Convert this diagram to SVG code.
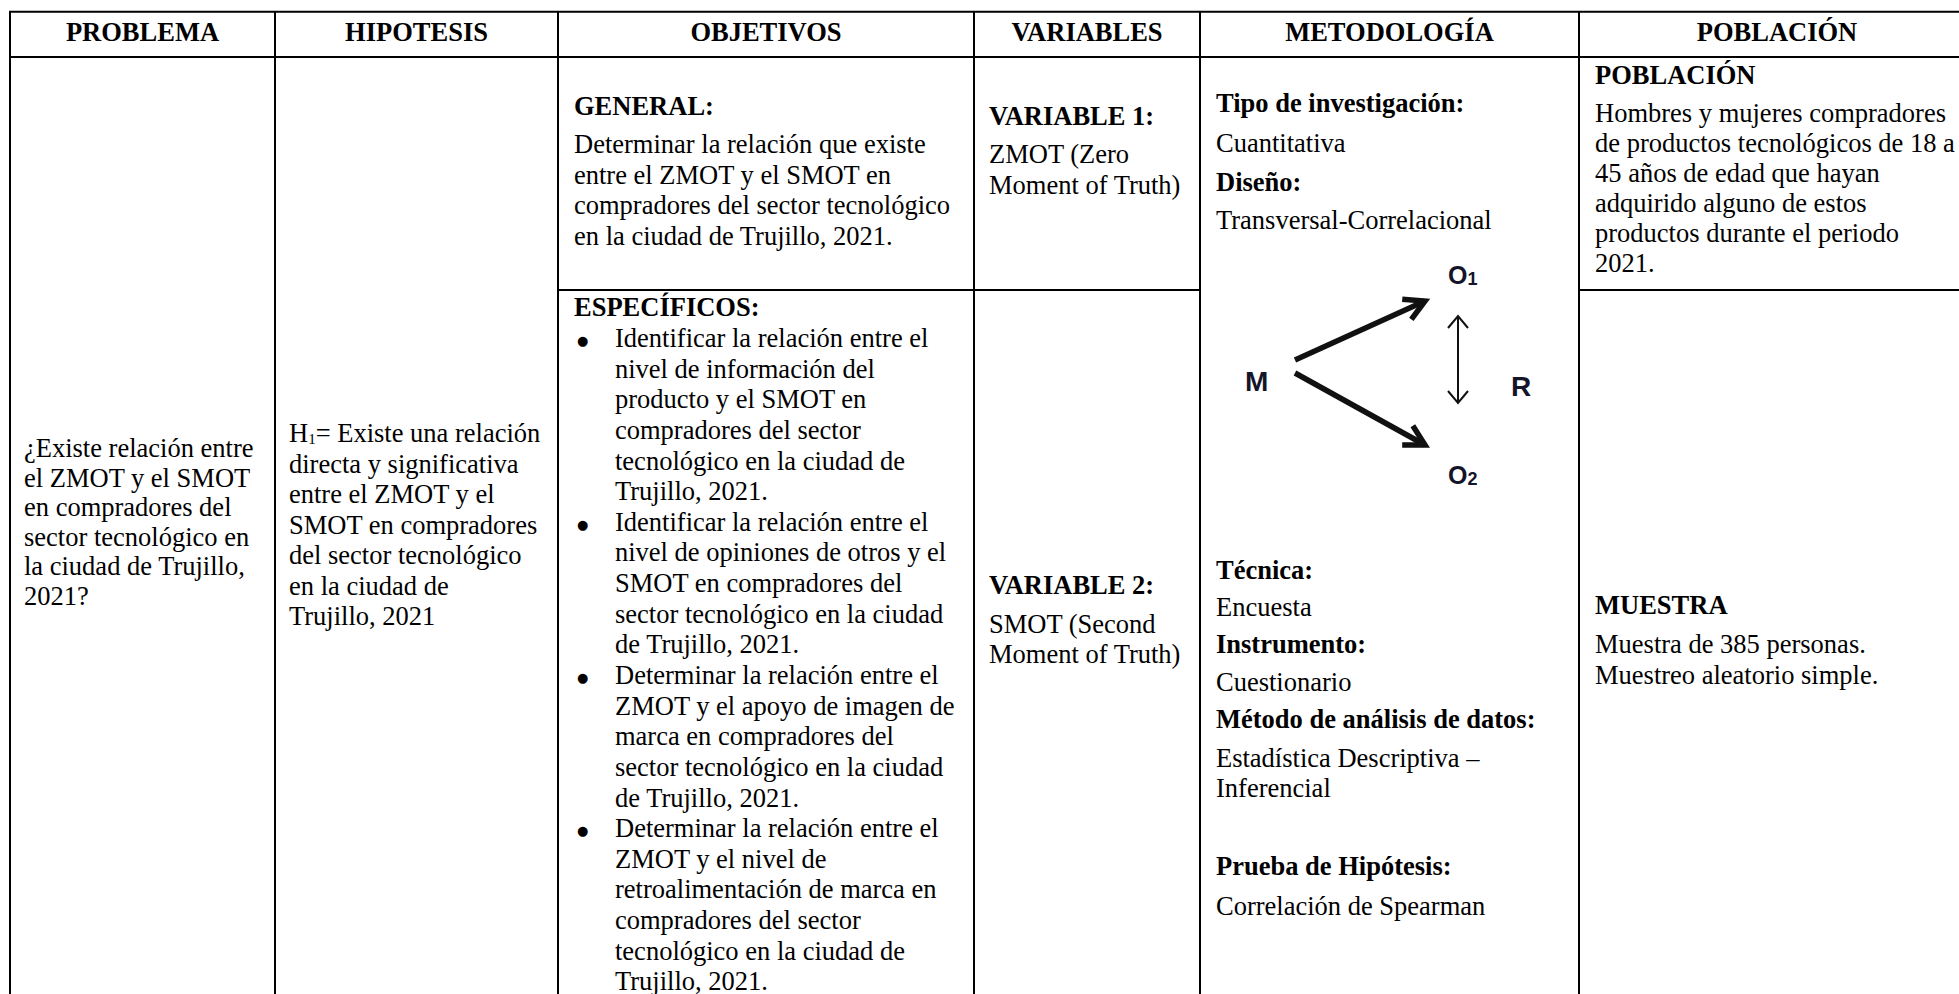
<svg xmlns="http://www.w3.org/2000/svg" width="1959" height="994" viewBox="0 0 1959 994">
<style>
  .t { font-family: "Liberation Serif", "Times New Roman", serif; font-size: 26.5px; fill: #000; }
  .b { font-weight: bold; }
  .h { font-family: "Liberation Serif", "Times New Roman", serif; font-size: 26.5px; font-weight: bold; text-anchor: middle; fill: #000; }
  .bul { font-family: "DejaVu Sans", sans-serif; font-size: 13px; fill: #000; }
  .grid { stroke: #000; stroke-width: 2; fill: none; }
  .lbl { font-family: "Liberation Sans", Arial, sans-serif; font-weight: bold; font-size: 28px; fill: #15152a; }
  .lblo { font-family: "Liberation Sans", Arial, sans-serif; font-weight: bold; font-size: 25px; fill: #15152a; }
  .thick { stroke: #111; stroke-width: 5.5; fill: none; }
  .thin { stroke: #111; stroke-width: 2; fill: none; }
</style>
<defs>
  <marker id="headThick" markerUnits="userSpaceOnUse" markerWidth="44" markerHeight="44" refX="0" refY="0" viewBox="-26 -22 32 44" orient="auto">
    <path d="M -20 -11 L 0 0 L -20 11" stroke="#111" stroke-width="5.5" fill="none" stroke-linejoin="miter"/>
  </marker>
  <marker id="headThin" markerUnits="userSpaceOnUse" markerWidth="30" markerHeight="30" refX="0" refY="0" viewBox="-15 -15 20 30" orient="auto-start-reverse">
    <path d="M -12 -10 L 0 0 L -12 10" stroke="#111" stroke-width="2" fill="none"/>
  </marker>
</defs>
<rect x="0" y="0" width="1959" height="994" fill="#fff"/>

<g id="grid">
  <line class="grid" x1="9" y1="11.7" x2="1959" y2="11.7" stroke-width="2.5"/>
  <line class="grid" x1="9" y1="57" x2="1959" y2="57"/>
  <line class="grid" x1="10" y1="11" x2="10" y2="994"/>
  <line class="grid" x1="275" y1="11" x2="275" y2="994"/>
  <line class="grid" x1="558" y1="11" x2="558" y2="994"/>
  <line class="grid" x1="974" y1="11" x2="974" y2="994"/>
  <line class="grid" x1="1200" y1="11" x2="1200" y2="994"/>
  <line class="grid" x1="1579" y1="11" x2="1579" y2="994"/>
  <line class="grid" x1="558" y1="290" x2="1200" y2="290" stroke-width="2.5"/>
  <line class="grid" x1="1579" y1="290" x2="1959" y2="290" stroke-width="2.5"/>
</g>

<g id="headers">
  <text class="h" x="142.5" y="41">PROBLEMA</text>
  <text class="h" x="416.5" y="41">HIPOTESIS</text>
  <text class="h" x="766" y="41">OBJETIVOS</text>
  <text class="h" x="1087" y="41">VARIABLES</text>
  <text class="h" x="1389.5" y="41">METODOLOGÍA</text>
  <text class="h" x="1777" y="41">POBLACIÓN</text>
</g>

<g id="problema">
  <text class="t" x="24" y="457">¿Existe relación entre</text>
  <text class="t" x="24" y="486.6">el ZMOT y el SMOT</text>
  <text class="t" x="24" y="516.2">en compradores del</text>
  <text class="t" x="24" y="545.8">sector tecnológico en</text>
  <text class="t" x="24" y="575.4">la ciudad de Trujillo,</text>
  <text class="t" x="24" y="605">2021?</text>
</g>

<g id="hipotesis">
  <text class="t" x="289" y="442">H<tspan font-size="15" dy="2">1</tspan><tspan dy="-2">= Existe una relación</tspan></text>
  <text class="t" x="289" y="472.5">directa y significativa</text>
  <text class="t" x="289" y="503">entre el ZMOT y el</text>
  <text class="t" x="289" y="533.5">SMOT en compradores</text>
  <text class="t" x="289" y="564">del sector tecnológico</text>
  <text class="t" x="289" y="594.5">en la ciudad de</text>
  <text class="t" x="289" y="625">Trujillo, 2021</text>
</g>

<g id="objetivo-general">
  <text class="t b" x="574" y="115">GENERAL:</text>
  <text class="t" x="574" y="153">Determinar la relación que existe</text>
  <text class="t" x="574" y="183.5">entre el ZMOT y el SMOT en</text>
  <text class="t" x="574" y="214">compradores del sector tecnológico</text>
  <text class="t" x="574" y="244.5">en la ciudad de Trujillo, 2021.</text>
</g>

<g id="objetivos-especificos">
  <text class="t b" x="574" y="316">ESPECÍFICOS:</text>
  <text class="bul" x="577" y="345">●</text>
  <text class="t" x="615" y="347">Identificar la relación entre el</text>
  <text class="t" x="615" y="377.6">nivel de información del</text>
  <text class="t" x="615" y="408.3">producto y el SMOT en</text>
  <text class="t" x="615" y="438.9">compradores del sector</text>
  <text class="t" x="615" y="469.5">tecnológico en la ciudad de</text>
  <text class="t" x="615" y="500.2">Trujillo, 2021.</text>
  <text class="bul" x="577" y="528.8">●</text>
  <text class="t" x="615" y="530.8">Identificar la relación entre el</text>
  <text class="t" x="615" y="561.4">nivel de opiniones de otros y el</text>
  <text class="t" x="615" y="592">SMOT en compradores del</text>
  <text class="t" x="615" y="622.7">sector tecnológico en la ciudad</text>
  <text class="t" x="615" y="653.3">de Trujillo, 2021.</text>
  <text class="bul" x="577" y="681.9">●</text>
  <text class="t" x="615" y="683.9">Determinar la relación entre el</text>
  <text class="t" x="615" y="714.6">ZMOT y el apoyo de imagen de</text>
  <text class="t" x="615" y="745.2">marca en compradores del</text>
  <text class="t" x="615" y="775.8">sector tecnológico en la ciudad</text>
  <text class="t" x="615" y="806.5">de Trujillo, 2021.</text>
  <text class="bul" x="577" y="835.1">●</text>
  <text class="t" x="615" y="837.1">Determinar la relación entre el</text>
  <text class="t" x="615" y="867.7">ZMOT y el nivel de</text>
  <text class="t" x="615" y="898.3">retroalimentación de marca en</text>
  <text class="t" x="615" y="929">compradores del sector</text>
  <text class="t" x="615" y="959.6">tecnológico en la ciudad de</text>
  <text class="t" x="615" y="990.2">Trujillo, 2021.</text>
</g>

<g id="variable-1">
  <text class="t b" x="989" y="125">VARIABLE 1:</text>
  <text class="t" x="989" y="163">ZMOT (Zero</text>
  <text class="t" x="989" y="193.5">Moment of Truth)</text>
</g>

<g id="variable-2">
  <text class="t b" x="989" y="594">VARIABLE 2:</text>
  <text class="t" x="989" y="633">SMOT (Second</text>
  <text class="t" x="989" y="663">Moment of Truth)</text>
</g>

<g id="metodologia">
  <text class="t b" x="1216" y="112">Tipo de investigación:</text>
  <text class="t" x="1216" y="152">Cuantitativa</text>
  <text class="t b" x="1216" y="191">Diseño:</text>
  <text class="t" x="1216" y="229">Transversal-Correlacional</text>
  <text class="t b" x="1216" y="579">Técnica:</text>
  <text class="t" x="1216" y="616">Encuesta</text>
  <text class="t b" x="1216" y="653">Instrumento:</text>
  <text class="t" x="1216" y="691">Cuestionario</text>
  <text class="t b" x="1216" y="728">Método de análisis de datos:</text>
  <text class="t" x="1216" y="767">Estadística Descriptiva –</text>
  <text class="t" x="1216" y="797">Inferencial</text>
  <text class="t b" x="1216" y="875">Prueba de Hipótesis:</text>
  <text class="t" x="1216" y="915">Correlación de Spearman</text>
</g>

<g id="diseno-diagrama">
  <text class="lbl" x="1245" y="391">M</text>
  <text class="lblo" x="1448" y="284">O<tspan font-size="18" dy="1">1</tspan></text>
  <text class="lblo" x="1448" y="484">O<tspan font-size="18" dy="1">2</tspan></text>
  <text class="lbl" x="1511" y="396">R</text>
</g>

<g id="connectors">
  <line class="thick" x1="1295" y1="360" x2="1425" y2="301" marker-end="url(#headThick)"/>
  <line class="thick" x1="1295" y1="373" x2="1425" y2="445" marker-end="url(#headThick)"/>
  <line class="thin" x1="1458" y1="316" x2="1458" y2="403" marker-start="url(#headThin)" marker-end="url(#headThin)"/>
</g>

<g id="poblacion">
  <text class="t b" x="1595" y="84">POBLACIÓN</text>
  <text class="t" x="1595" y="121.5">Hombres y mujeres compradores</text>
  <text class="t" x="1595" y="151.5">de productos tecnológicos de 18 a</text>
  <text class="t" x="1595" y="181.5">45 años de edad que hayan</text>
  <text class="t" x="1595" y="211.5">adquirido alguno de estos</text>
  <text class="t" x="1595" y="241.5">productos durante el periodo</text>
  <text class="t" x="1595" y="271.5">2021.</text>
</g>

<g id="muestra">
  <text class="t b" x="1595" y="614">MUESTRA</text>
  <text class="t" x="1595" y="653">Muestra de 385 personas.</text>
  <text class="t" x="1595" y="684">Muestreo aleatorio simple.</text>
</g>
</svg>
